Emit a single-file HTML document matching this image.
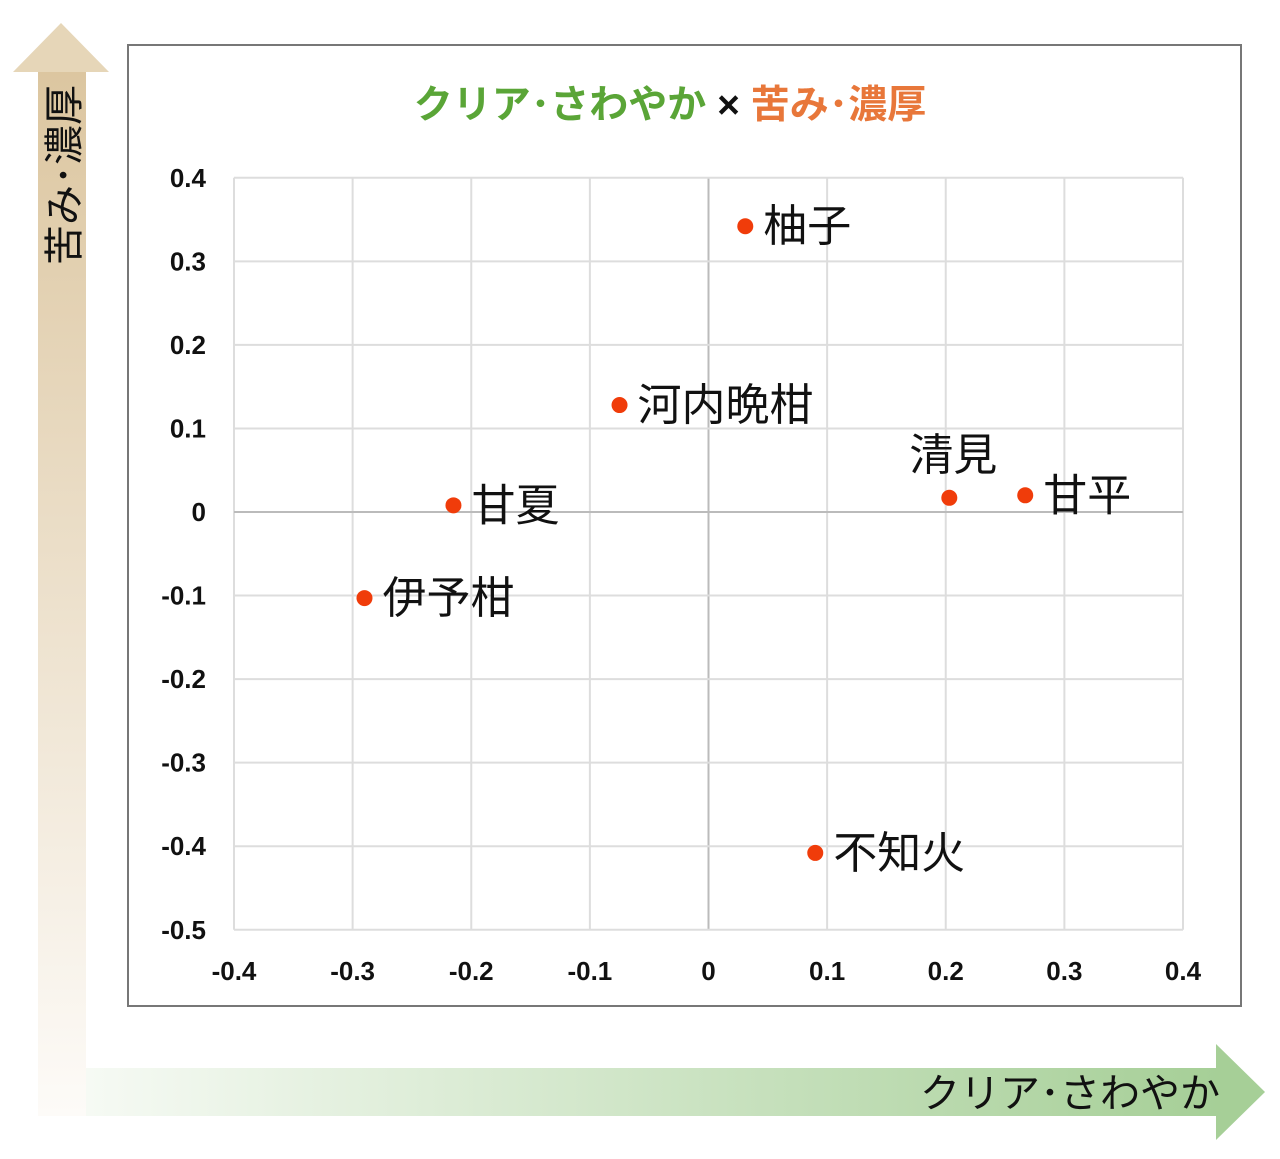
<!DOCTYPE html>
<html><head><meta charset="utf-8"><style>
body{margin:0;background:#fff;}
svg text{font-family:"Liberation Sans","Noto Sans CJK JP",sans-serif;}
</style></head><body>
<svg id="c" width="1280" height="1154" viewBox="0 0 1280 1154">
<defs>
<linearGradient id="gv" x1="0" y1="0" x2="0" y2="1"><stop offset="0" stop-color="#dcc6a0"/><stop offset="1" stop-color="#fdfbf8"/></linearGradient>
<linearGradient id="gh" x1="0" y1="0" x2="1" y2="0"><stop offset="0" stop-color="#f6faf4"/><stop offset="1" stop-color="#a6cf97"/></linearGradient>
</defs>
<g>
<rect x="38" y="70" width="48" height="1046" fill="url(#gv)"/>
<polygon points="61,23 109,72 13,72" fill="#e6d6b8"/>
<text transform="translate(78,175) rotate(-90)" text-anchor="middle" font-size="40" fill="#111">苦み･濃厚</text>
</g>
<g>
<rect x="86" y="1068" width="1132" height="48" fill="url(#gh)"/>
<polygon points="1216,1044 1265,1092 1216,1140" fill="#a6cf97"/>
<text x="1220" y="1107" text-anchor="end" font-size="40" fill="#111">クリア･さわやか</text>
</g>
<rect x="128" y="45" width="1113" height="961" fill="#fff" stroke="#777" stroke-width="2"/>
<text x="670" y="118" text-anchor="middle" font-size="39" font-weight="bold"><tspan fill="#5aa537">クリア･さわやか</tspan><tspan fill="#111"> × </tspan><tspan fill="#e8773a">苦み･濃厚</tspan></text>
<g id="grid"></g><g id="pts"></g>
</svg>
<script>
const xTicks=[-0.4,-0.3,-0.2,-0.1,0,0.1,0.2,0.3,0.4];
const yTicks=[0.4,0.3,0.2,0.1,0,-0.1,-0.2,-0.3,-0.4,-0.5];
const names=["柚子","河内晩柑","甘夏","伊予柑","清見","甘平","不知火"];
const xs=[0.031,-0.075,-0.215,-0.290,0.203,0.267,0.090];
const ys=[0.342,0.128,0.008,-0.103,0.017,0.020,-0.408];
const labelPos=["r","r","r","r","t","r","r"];
const X=v=>708.5+v*1186.25, Y=v=>512-v*835.6;
const NS="http://www.w3.org/2000/svg";
function mk(t,a,p){const e=document.createElementNS(NS,t);for(const k in a)e.setAttribute(k,a[k]);p.appendChild(e);return e;}
const g=document.getElementById('grid');
xTicks.forEach(v=>{
 const l=mk('line',{x1:X(v),x2:X(v),y1:Y(0.4),y2:Y(-0.5),stroke:v===0?'#bbb':'#ddd','stroke-width':2},g);
 
 
 const t=mk('text',{x:X(v),y:980,'text-anchor':'middle','font-size':26,'font-weight':'bold',fill:'#111'},g);
 t.textContent=v===0?'0':String(v);
 
 
});
yTicks.forEach(v=>{
 const l=mk('line',{x1:X(-0.4),x2:X(0.4),y1:Y(v),y2:Y(v),stroke:v===0?'#bbb':'#ddd','stroke-width':2},g);
 
 
 const t=mk('text',{x:206,y:Y(v)+9,'text-anchor':'end','font-size':26,'font-weight':'bold',fill:'#111'},g);
 t.textContent=v===0?'0':String(v);
 
 
});
const p=document.getElementById('pts');
names.forEach((n,i)=>{
 const c=mk('circle',{cx:X(xs[i]),cy:Y(ys[i]),r:8,fill:'#f03c0a'},p);
 
 
 const t=mk('text',labelPos[i]==='t'?{x:X(xs[i])+4,y:Y(ys[i])-28,'text-anchor':'middle','font-size':44,fill:'#111'}:{x:X(xs[i])+18,y:Y(ys[i])+15,'font-size':44,fill:'#111'},p);
 t.textContent=n;
 
 
});
</script>
</body></html>
